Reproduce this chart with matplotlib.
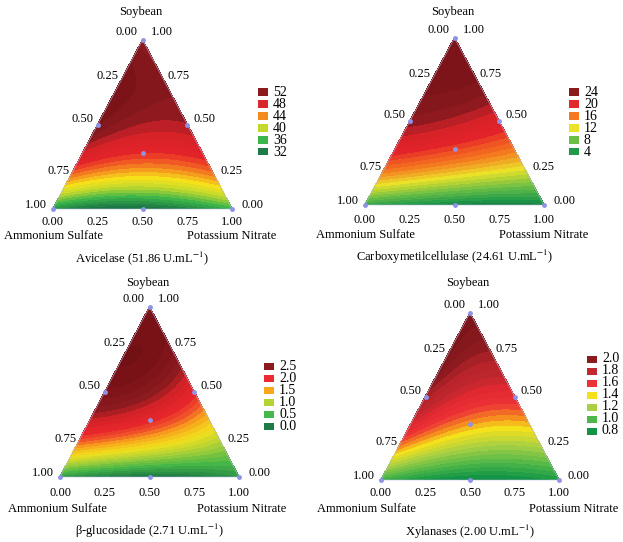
import numpy as np
import matplotlib
matplotlib.use('Agg')
import matplotlib.pyplot as plt
import matplotlib.tri as mtri
from matplotlib.colors import LinearSegmentedColormap, Normalize
from matplotlib.patches import Rectangle

plt.rcParams['font.family'] = 'Liberation Serif'
plt.rcParams['mathtext.fontset'] = 'stix'

W, H = 623, 542

# {3,3} simplex lattice: soybean, ammonium sulfate, potassium nitrate
lat_soy = [1, 0, 0, 2/3, 1/3, 2/3, 1/3, 0, 0, 1/3]
lat_as = [0, 1, 0, 1/3, 2/3, 0, 0, 2/3, 1/3, 1/3]
lat_kn = [0, 0, 1, 0, 0, 1/3, 2/3, 1/3, 2/3, 1/3]

# responses at the lattice points
avicelase = [52.5, 34.0, 36.0, 55.0, 50.5, 53.0, 49.0, 31.5, 32.5, 48.0]
cmcase = [26.5, 5.0, 2.5, 26.0, 21.0, 25.0, 16.5, 3.0, 2.0, 19.0]
bglu = [2.75, 0.3, 0.3, 2.9, 2.35, 2.55, 1.45, 0.05, 0.05, 2.05]
xylanase = [2.08, 0.95, 0.85, 2.02, 1.72, 1.85, 1.42, 0.8, 0.78, 1.45]

# design points (simplex centroid) drawn as dots
design_soy = [1, 0, 0, 0.5, 0.5, 0, 1/3]
design_kn = [0, 0, 1, 0, 0.5, 0.5, 1/3]

titles = ['Avicelase (51.86 U.mL$^{-1}$)',
          'Carboxymetilcellulase (24.61 U.mL$^{-1}$)',
          'β-glucosidade (2.71 U.mL$^{-1}$)',
          'Xylanases (2.00 U.mL$^{-1}$)']

legend_labels = [['52', '48', '44', '40', '36', '32'],
                 ['24', '20', '16', '12', '8', '4'],
                 ['2.5', '2.0', '1.5', '1.0', '0.5', '0.0'],
                 ['2.0', '1.8', '1.6', '1.4', '1.2', '1.0', '0.8']]
legend_colors = [['#8b1a1f', '#d7282f', '#f58a1f', '#c5d92d', '#3cb54a', '#1e7b45'],
                 ['#8b1a1f', '#e0282f', '#f47920', '#ebe229', '#6cbf45', '#1f9a4a'],
                 ['#8b1a1f', '#ec2a30', '#f7a81b', '#b6d335', '#45b649', '#1e7b45'],
                 ['#8b1a1f', '#c1272d', '#ec3237', '#f5e11a', '#a8cf45', '#4cb648', '#129447']]

cmap_nodes = [
    [(30, '#146a38'), (33, '#1e7b45'), (36.5, '#3cb54a'), (40, '#c5d92d'), (42.5, '#f5e11a'),
     (45, '#f58a1f'), (47, '#ee4a24'), (48.5, '#e3232a'), (51, '#d42228'), (52.5, '#8e1a1f'),
     (56, '#6e0f14')],
    [(1, '#146a38'), (4, '#1f9a4a'), (8, '#6cbf45'), (12.5, '#ebe229'), (16.5, '#f47920'),
     (19, '#ee4a24'), (20.5, '#e3232a'), (23, '#d42228'), (24.5, '#8e1a1f'), (28, '#6e0f14')],
    [(-0.2, '#146a38'), (0.1, '#1e7b45'), (0.55, '#45b649'), (1.0, '#b6d335'), (1.3, '#f2e01c'),
     (1.6, '#f7a81b'), (1.85, '#f0522a'), (2.05, '#e8262c'), (2.35, '#d42228'), (2.55, '#8e1a1f'),
     (3.0, '#6e0f14')],
    [(0.7, '#0f7a3c'), (0.82, '#129447'), (1.0, '#4cb648'), (1.2, '#a8cf45'), (1.38, '#f5e11a'),
     (1.48, '#f58a1f'), (1.6, '#ec3237'), (1.72, '#e0282f'), (1.8, '#c1272d'), (1.9, '#b52328'),
     (1.98, '#8b1a1f'), (2.2, '#6e0f14')],
]
steps = [1.0, 1.0, 0.1, 0.05]

# triangle (bottom-left x, base y, width, height) in pixels
boxes = [(53, 209, 179, 169), (365, 205, 179, 167), (60, 477, 179, 170), (381, 480, 178, 167)]
legend_pos = [(258, 92), (569, 92), (264, 366), (587, 359)]
name_spread = [0, 0, -3, -15]
# vertical text offsets: soybean, bottom ticks, component names, title
text_dy = [(-28, 13, 27, 49), (-26, 15, 30, 52), (-24, 16, 32, 54), (-30, 13, 29, 52)]


def cubic_terms(a, b, c):
    a, b, c = np.asarray(a, float), np.asarray(b, float), np.asarray(c, float)
    return np.stack([a, b, c, a*b, a*c, b*c, a*b*(a-b), a*c*(a-c), b*c*(b-c), a*b*c], axis=-1)


def px(dx, dy):
    return (dx * 0.72, -dy * 0.72)


# barycentric grid
n = 90
gs, gk = [], []
for i in range(n + 1):
    for j in range(n + 1 - i):
        gs.append(i / n)
        gk.append(j / n)
gs, gk = np.array(gs), np.array(gk)
ga = 1 - gs - gk
gx = gk + gs / 2
tri = mtri.Triangulation(gx, gs)

fig = plt.figure(figsize=(W / 100, H / 100), dpi=100)

for p, resp in enumerate([avicelase, cmcase, bglu, xylanase]):
    bx, by, bw, bh = boxes[p]
    ax = fig.add_axes([bx / W, 1 - by / H, bw / W, bh / H])
    ax.set_xlim(0, 1)
    ax.set_ylim(0, 1)
    ax.axis('off')

    coef = np.linalg.solve(cubic_terms(lat_soy, lat_as, lat_kn), np.array(resp))
    z = cubic_terms(gs, ga, gk) @ coef

    nodes = cmap_nodes[p]
    lo, hi = nodes[0][0], nodes[-1][0]
    cmap = LinearSegmentedColormap.from_list(
        'c%d' % p, [((v - lo) / (hi - lo), c) for v, c in nodes])
    norm = Normalize(lo, hi)
    st = steps[p]
    levels = np.arange(np.floor(z.min() / st) * st - st, z.max() + 2 * st, st)
    cs = ax.tricontourf(tri, z, levels=levels, cmap=cmap, norm=norm)
    cs.set_edgecolor('face')
    cs.set_linewidth(0.4)

    ax.plot([0, 1, 0.5, 0], [0, 0, 1, 0], color='#b4b8d8', lw=0.4, clip_on=False)
    dx = np.array(design_kn) + np.array(design_soy) / 2
    ax.plot(dx, design_soy, 'o', ms=2.5, color='#8f93e6', clip_on=False)

    fs = 9
    kw = dict(textcoords='offset points', fontsize=fs, va='center', annotation_clip=False)
    # apex
    ax.annotate('0.00', (0.5, 1), xytext=px(-5, -8), ha='right', **kw)
    ax.annotate('1.00', (0.5, 1), xytext=px(8, -8), ha='left', **kw)
    # left edge (ammonium sulfate)
    for s, lab, ddx, ddy in zip([0.75, 0.5, 0.25, 0], ['0.25', '0.50', '0.75', '1.00'],
                                [-2, -4, -6, -6], [-6, -6, 4, -4]):
        ax.annotate(lab, (s / 2, s), xytext=px(ddx, ddy), ha='right', **kw)
    # right edge (soybean)
    for s, lab, ddx, ddy in zip([0.75, 0.5, 0.25, 0], ['0.75', '0.50', '0.25', '0.00'],
                                [3, 6, 11, 9], [-6, -6, 4, -4]):
        ax.annotate(lab, (1 - s / 2, s), xytext=px(ddx, ddy), ha='left', **kw)

    dy_soy, dy_tick, dy_name, dy_title = text_dy[p]
    # bottom edge (potassium nitrate)
    for t in [0, 0.25, 0.5, 0.75, 1]:
        ax.annotate('%.2f' % t, (t, 0), xytext=px(0, dy_tick), ha='center', **kw)

    sp = name_spread[p]
    ax.annotate('Soybean', (0.5, 1), xytext=px(-2, dy_soy), ha='center', **kw)
    ax.annotate('Ammonium Sulfate', (0, 0), xytext=px(sp, dy_name), ha='center', **kw)
    ax.annotate('Potassium Nitrate', (1, 0), xytext=px(-sp, dy_name), ha='center', **kw)
    ax.annotate(titles[p], (0.5, 0), xytext=px(0, dy_title), ha='center', **kw)

    # legend
    lx, ly = legend_pos[p]
    for k, (lab, col) in enumerate(zip(legend_labels[p], legend_colors[p])):
        yy = ly + k * 12
        fig.add_artist(Rectangle((lx / W, 1 - (yy + 3.5) / H), 10 / W, 7 / H,
                                 transform=fig.transFigure, color=col, lw=0))
        fig.text((lx + 15) / W, 1 - yy / H, lab, va='center', ha='left', fontsize=10)

fig.savefig('out.png', dpi=100)
